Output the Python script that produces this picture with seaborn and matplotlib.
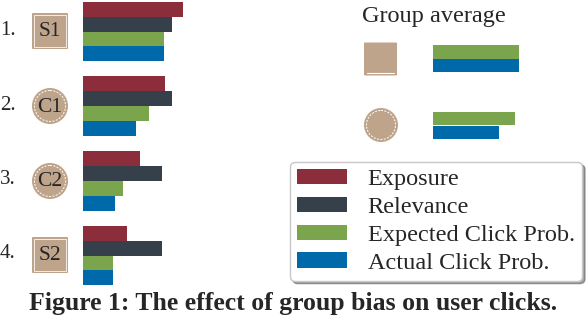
import numpy as np
import pandas as pd
import matplotlib
matplotlib.use("Agg")
import matplotlib.pyplot as plt
import seaborn as sns
from matplotlib.patches import Circle, FancyBboxPatch, Rectangle

# Dane (długość słupka w umownych jednostkach)
groups = ["S1", "C1", "C2", "S2"]
row_labels = ["1.", "2.", "3.", "4."]
metrics = ["Exposure", "Relevance", "Expected Click Prob.", "Actual Click Prob."]
exposure = [100, 82, 57, 44]
relevance = [89, 89, 79, 79]
expected = [81, 66, 40, 30]
actual = [81, 53, 32, 30]

avg_groups = ["square", "circle"]
avg_expected = [86, 82]
avg_actual = [86, 66]

colors = ["#8C2D3B", "#36404A", "#7BA54D", "#0069AA"]
tan = "#BFA48C"

sns.set_style("white")
plt.rcParams["font.family"] = ["Liberation Serif", "DejaVu Serif"]

W, H = 586, 318
fig = plt.figure(figsize=(W / 100, H / 100), dpi=100)

# Warstwa z ikonami i tekstem (współrzędne w pikselach)
bg = fig.add_axes([0, 0, 1, 1], zorder=0)
bg.set_xlim(0, W)
bg.set_ylim(H, 0)
bg.axis("off")

# Główne słupki
df = pd.DataFrame({
    "group": np.repeat(groups, len(metrics)),
    "metric": metrics * len(groups),
    "value": np.ravel(np.column_stack([exposure, relevance, expected, actual])),
})
ax = fig.add_axes([83 / W, 0, 220 / W, 1], zorder=1)
sns.barplot(data=df, x="value", y="group", hue="metric", hue_order=metrics,
            palette=colors, orient="h", width=0.8, saturation=1, linewidth=0, ax=ax)
step = (255.5 - 31.5) / 3
ax.set_xlim(0, 220)
ax.set_ylim(3 + (H - 255.5) / step, -31.5 / step)
handles, labels = ax.get_legend_handles_labels()
ax.get_legend().remove()
ax.axis("off")
ax.patch.set_alpha(0)

# Średnie grupowe
df_avg = pd.DataFrame({
    "group": np.repeat(avg_groups, 2),
    "metric": metrics[2:] * 2,
    "value": np.ravel(np.column_stack([avg_expected, avg_actual])),
})
ax2 = fig.add_axes([433 / W, 0, 120 / W, 1], zorder=1)
sns.barplot(data=df_avg, x="value", y="group", hue="metric", hue_order=metrics[2:],
            palette=colors[2:], orient="h", width=0.4, saturation=1, linewidth=0,
            legend=False, ax=ax2)
step2 = 125.5 - 58.5
ax2.set_xlim(0, 120)
ax2.set_ylim(1 + (H - 125.5) / step2, -58.5 / step2)
ax2.axis("off")
ax2.patch.set_alpha(0)


def square_icon(cx, cy, size, text=None, full_border=True):
    h = size / 2
    bg.add_patch(FancyBboxPatch((cx - h + 1, cy - h + 1), size - 2, size - 2,
                                boxstyle="round,pad=1", fc=tan, ec="none"))
    if full_border:
        bg.add_patch(Rectangle((cx - h + 2, cy - h + 2), size - 4, size - 4,
                               fill=False, ec="white", lw=0.7, alpha=0.8))
    else:
        bg.plot([cx - h + 3, cx + h - 3], [cy + h - 3, cy + h - 3], color="white", lw=0.8)
    if text:
        bg.text(cx, cy + 1, text, ha="center", va="center", fontsize=15.5)


def circle_icon(cx, cy, r, text=None):
    bg.add_patch(Circle((cx, cy), r, fc=tan, ec="none"))
    bg.add_patch(Circle((cx, cy), r - 2.5, fill=False, ec="white", lw=0.7,
                        ls=(0, (2, 1.5))))
    if text:
        bg.text(cx, cy + 1, text, ha="center", va="center", fontsize=15.5)


square_icon(50, 31, 36, "S1")
circle_icon(50, 106, 18, "C1")
circle_icon(50, 181, 18, "C2")
square_icon(50, 255, 36, "S2")

for lbl, yb in zip(row_labels, [35, 110, 184, 258]):
    bg.text(0, yb, lbl, ha="left", va="baseline", fontsize=15)

bg.text(362, 22, "Group average", ha="left", va="baseline", fontsize=17.5)
square_icon(380.5, 59, 33, full_border=False)
circle_icon(381, 125, 17)

leg = fig.legend(handles, labels, loc="upper left", bbox_to_anchor=(290 / W, 1 - 162 / H),
                 prop={"size": 17.5}, handlelength=2.05, handleheight=0.58,
                 labelspacing=0.27, borderpad=0.3, handletextpad=0.85,
                 borderaxespad=0, frameon=True, fancybox=True, shadow=True,
                 edgecolor="#c8c8c8", framealpha=1)

fig.text(293 / W, 1 - 310 / H, "Figure 1: The effect of group bias on user clicks.",
         ha="center", va="baseline", fontsize=18.5, fontweight="bold")

fig.savefig("out.png", dpi=100)
